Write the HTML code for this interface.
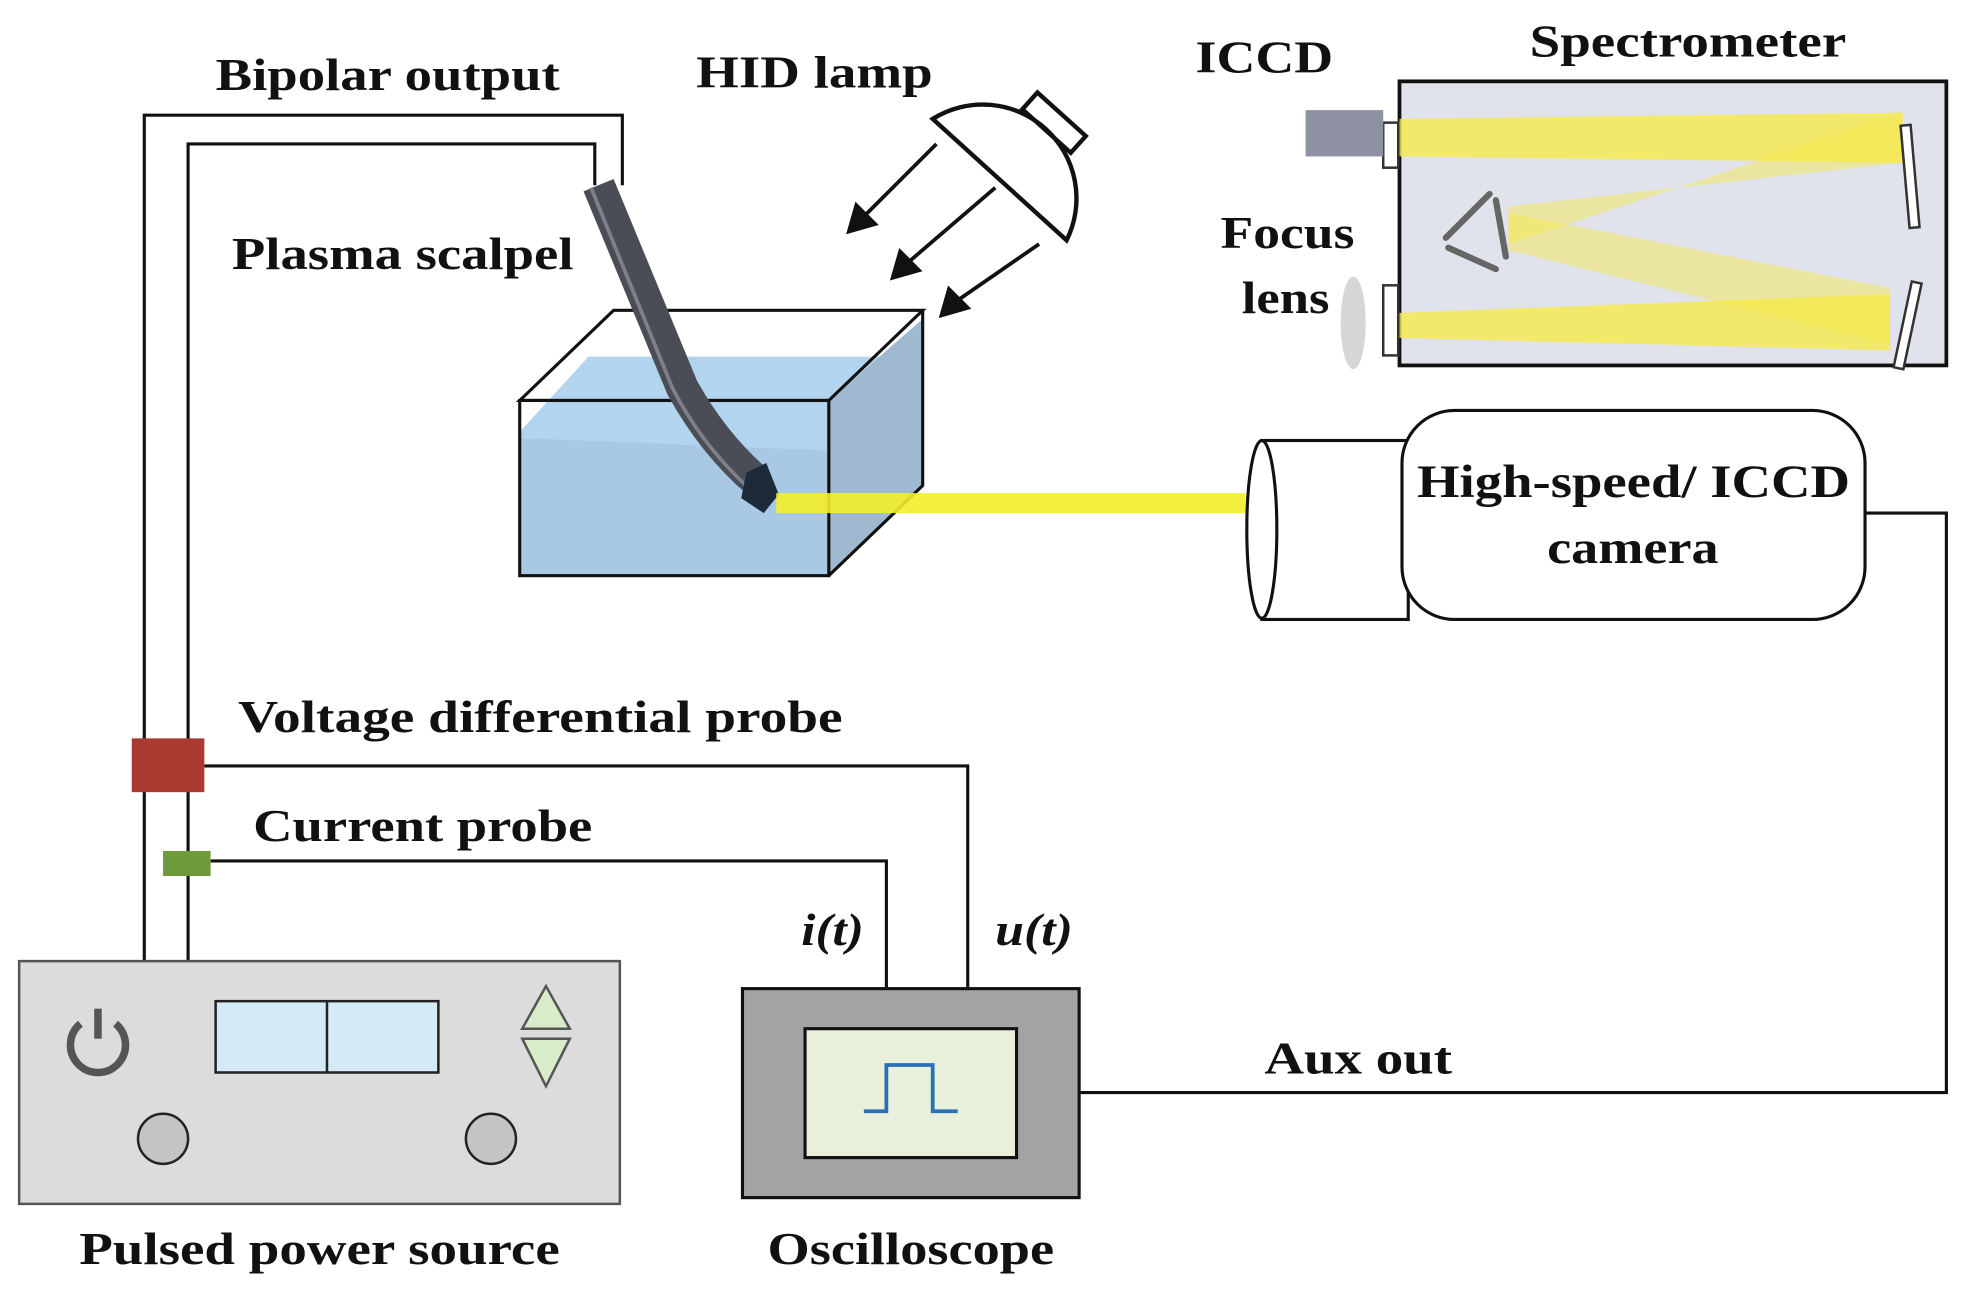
<!DOCTYPE html>
<html><head><meta charset="utf-8"><style>
html,body{margin:0;padding:0;background:#fff}
svg{display:block}
text{font-family:"Liberation Serif",serif;font-weight:bold;fill:#111}
</style></head><body>
<svg width="1963" height="1294" viewBox="0 0 1568 1034" xmlns="http://www.w3.org/2000/svg">
<!-- wires -->
<g fill="none" stroke="#111" stroke-width="2.5">
<polyline points="115,768 115,92 497,92 497,148"/>
<polyline points="150,768 150,115 475,115 475,148"/>
<polyline points="163,612 773,612 773,790"/>
<polyline points="168,688 708,688 708,790"/>
<polyline points="1490,410 1555,410 1555,873 862,873"/>
</g>
<g font-size="36" lengthAdjust="spacingAndGlyphs">
<text x="172" y="72" textLength="275" lengthAdjust="spacingAndGlyphs">Bipolar output</text>
<text x="185" y="215" textLength="273" lengthAdjust="spacingAndGlyphs">Plasma scalpel</text>
<text x="556" y="70" textLength="189" lengthAdjust="spacingAndGlyphs">HID lamp</text>
<text x="955" y="58" textLength="110" lengthAdjust="spacingAndGlyphs">ICCD</text>
<text x="1222" y="45" textLength="253" lengthAdjust="spacingAndGlyphs">Spectrometer</text>
<text x="975" y="198" textLength="107" lengthAdjust="spacingAndGlyphs">Focus</text>
<text x="992" y="250" textLength="70" lengthAdjust="spacingAndGlyphs">lens</text>
<text x="190" y="585" textLength="483" lengthAdjust="spacingAndGlyphs">Voltage differential probe</text>
<text x="202" y="672" textLength="271" lengthAdjust="spacingAndGlyphs">Current probe</text>
<text x="640" y="755" font-style="italic" textLength="50" lengthAdjust="spacingAndGlyphs">i(t)</text>
<text x="795" y="755" font-style="italic" textLength="62" lengthAdjust="spacingAndGlyphs">u(t)</text>
<text x="1010" y="858" textLength="150" lengthAdjust="spacingAndGlyphs">Aux out</text>
<text x="63" y="1010" textLength="384" lengthAdjust="spacingAndGlyphs">Pulsed power source</text>
<text x="613" y="1010" textLength="229" lengthAdjust="spacingAndGlyphs">Oscilloscope</text>
</g>

<!-- box with water -->
<polygon points="415,345 470,285 737,285 737,388 662,460 415,460" fill="#b3d4ee"/>
<polygon points="662,320 737,255 737,388 662,460" fill="#9fb9d0"/>
<polygon points="415,350 415,460 662,460 662,360" fill="#a9c8e4"/>
<g fill="none" stroke="#111" stroke-width="2.5">
<polygon points="415,320 490,248 737,248 662,320"/>
<rect x="415" y="320" width="247" height="140"/>
<polyline points="662,460 737,388 737,248"/>
</g>
<!-- scalpel -->
<path d="M478,148 L545,310 Q570,355 605,385" fill="none" stroke="#4a4d55" stroke-width="26" stroke-linejoin="round"/>
<path d="M472,150 L537,310 Q560,355 598,390" fill="none" stroke="#7d8088" stroke-width="3"/>
<polygon points="596,378 612,370 622,395 610,410 592,398" fill="#1c2a3a"/>
<rect x="620" y="394" width="375" height="16" fill="#f3ee2a" opacity="0.9"/>

<!-- lamp -->
<g fill="none" stroke="#111" stroke-width="3.5">
<path d="M745,95 L852,192 A75,75 0 0 0 745,95 Z"/>
<rect x="-26" y="-9" width="52" height="18" transform="translate(842,98) rotate(42)"/>
</g>
<g stroke="#111" stroke-width="3" fill="#111">
<line x1="748" y1="115" x2="690" y2="173"/><polygon points="678,185 684,164 699,179"/>
<line x1="795" y1="150" x2="725" y2="210"/><polygon points="713,222 719,201 734,216"/>
<line x1="830" y1="195" x2="765" y2="240"/><polygon points="752,252 758,231 773,246"/>
</g>

<!-- spectrometer -->
<rect x="1118" y="65" width="437" height="227" fill="#e0e3ec" stroke="#111" stroke-width="3"/>
<polygon points="1118,95 1520,90 1520,130 1118,125" fill="#f6e84a" opacity="0.8"/>
<polygon points="1205,165 1520,130 1520,90 1205,195" fill="#f6e84a" opacity="0.45"/>
<polygon points="1205,170 1510,230 1510,275 1205,200" fill="#f6e84a" opacity="0.45"/>
<polygon points="1118,250 1510,235 1510,280 1118,270" fill="#f6e84a" opacity="0.8"/>
<g fill="#fff" stroke="#333" stroke-width="2">
<rect x="1522" y="100" width="8" height="82" transform="rotate(-5 1526 141)"/>
<rect x="1520" y="225" width="8" height="70" transform="rotate(12 1524 260)"/>
<rect x="1105" y="98" width="12" height="36"/>
<rect x="1105" y="228" width="12" height="56"/>
</g>
<g stroke="#666" stroke-width="5" stroke-linecap="round" fill="none">
<line x1="1155" y1="190" x2="1190" y2="155"/>
<line x1="1157" y1="198" x2="1195" y2="215"/>
<line x1="1195" y1="160" x2="1203" y2="205"/>
</g>
<rect x="1043" y="88" width="62" height="37" fill="#8d91a2"/>
<ellipse cx="1081" cy="258" rx="10" ry="37" fill="#d6d6d8"/>

<!-- camera -->
<rect x="1008" y="352" width="117" height="143" fill="#fff" stroke="#111" stroke-width="2.5"/>
<ellipse cx="1008" cy="423" rx="12" ry="71" fill="#fff" stroke="#111" stroke-width="2.5"/>
<rect x="1120" y="328" width="370" height="167" rx="42" fill="#fff" stroke="#111" stroke-width="2.5"/>
<text x="1132" y="397" font-size="37" textLength="346" lengthAdjust="spacingAndGlyphs">High-speed/ ICCD</text>
<text x="1236" y="450" font-size="37" textLength="137" lengthAdjust="spacingAndGlyphs">camera</text>

<!-- probes -->
<rect x="105" y="590" width="58" height="43" fill="#a83a32"/>
<rect x="130" y="680" width="38" height="20" fill="#6e9a3a"/>

<!-- oscilloscope -->
<rect x="593" y="790" width="269" height="167" fill="#a3a3a3" stroke="#111" stroke-width="2.5"/>
<rect x="643" y="822" width="169" height="103" fill="#e8f0dc" stroke="#111" stroke-width="2.5"/>
<polyline points="690,888 708,888 708,851 745,851 745,888 765,888" fill="none" stroke="#2a6fb8" stroke-width="3"/>

<!-- power source -->
<rect x="15" y="768" width="480" height="194" fill="#dcdcdc" stroke="#555" stroke-width="2"/>
<rect x="172" y="800" width="178" height="57" fill="#d4eaf6" stroke="#222" stroke-width="2"/>
<line x1="261" y1="800" x2="261" y2="857" stroke="#222" stroke-width="2"/>
<path d="M64,818 A22,22 0 1 0 92,818" fill="none" stroke="#555" stroke-width="6"/>
<line x1="78" y1="806" x2="78" y2="830" stroke="#555" stroke-width="6"/>
<circle cx="130" cy="910" r="20" fill="#c4c4c4" stroke="#222" stroke-width="2"/>
<circle cx="392" cy="910" r="20" fill="#c4c4c4" stroke="#222" stroke-width="2"/>
<polygon points="436,788 417,822 455,822" fill="#d8ecca" stroke="#555" stroke-width="2"/>
<polygon points="417,830 455,830 436,868" fill="#d8ecca" stroke="#555" stroke-width="2"/>
</svg>
</body></html>
